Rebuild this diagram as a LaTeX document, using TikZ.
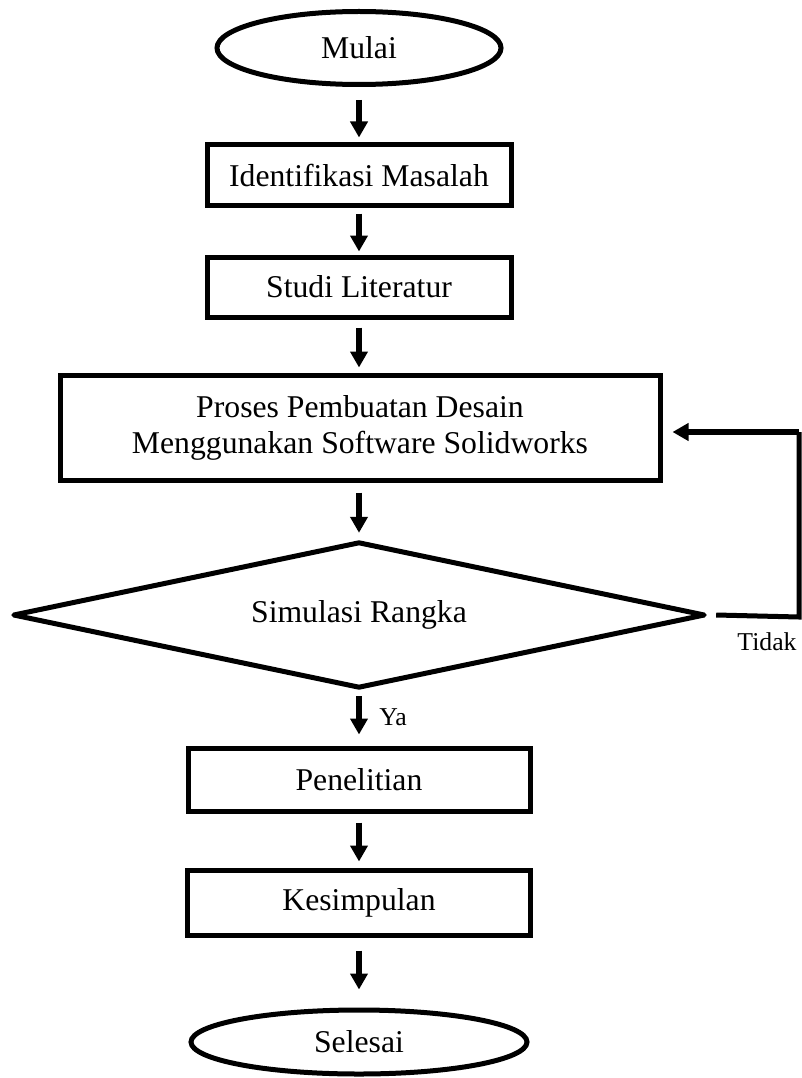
\documentclass[tikz,border=0pt]{standalone}
\usepackage{fontspec}
\setmainfont{Liberation Serif}
\usetikzlibrary{arrows.meta,shapes.geometric}
\begin{document}
\begin{tikzpicture}[x=1pt,y=-1pt,
  lw/.style={line width=5pt},
  procbox/.style={draw,lw,rectangle,inner sep=0pt,align=center,
    font=\fontsize{31.7}{36}\selectfont},
  term/.style={draw,lw,ellipse,inner sep=0pt,
    font=\fontsize{31.7}{36}\selectfont},
  decide/.style={rectangle,inner sep=0pt,
    font=\fontsize{31.7}{36}\selectfont},
  lab/.style={inner sep=0pt,font=\fontsize{25.7}{30}\selectfont},
  arr/.style={line width=5.5pt,-{Triangle[width=17pt,length=16pt]}}]
\useasboundingbox (0,0) rectangle (801,1078);

\node[term,minimum width=284pt,minimum height=73pt] (mulai) at (359,48) {Mulai};
\node[procbox,minimum width=304pt,minimum height=60pt] (ident) at (359,175) {Identifikasi Masalah};
\node[procbox,minimum width=304pt,minimum height=60pt] (studi) at (359,287) {Studi Literatur};
\node[procbox,minimum width=600pt,minimum height=105pt] (proses) at (360,427.5)
  {Proses Pembuatan Desain\\Menggunakan Software Solidworks};
\node[decide,minimum width=690pt,minimum height=144pt] (sim) at (359,615) {Simulasi Rangka};
\draw[lw,line join=round] (sim.west) -- (sim.north) -- (sim.east) -- (sim.south) -- cycle;
\node[procbox,minimum width=342pt,minimum height=63pt] (pen) at (359,779.5) {Penelitian};
\node[procbox,minimum width=343pt,minimum height=65pt] (kes) at (359,902.5) {Kesimpulan};
\node[term,minimum width=336pt,minimum height=64pt] (sel) at (359,1042) {Selesai};

\node[lab] (ya) at (393,717) {Ya};
\node[lab] (tidak) at (767,642) {Tidak};

\draw[arr] ([yshift=-13pt]mulai.south) -- ([yshift=5pt]ident.north);
\draw[arr] ([yshift=-6pt]ident.south) -- ([yshift=3pt]studi.north);
\draw[arr] ([yshift=-8pt]studi.south) -- ([yshift=5pt]proses.north -| studi.south);
\draw[arr] ([yshift=-10pt]proses.south -| sim.north) -- ([yshift=10pt]sim.north);
\draw[arr] ([yshift=-9pt]sim.south) -- ([yshift=11pt]pen.north);
\draw[arr] ([yshift=-9pt]pen.south) -- ([yshift=6pt]kes.north);
\draw[arr] ([yshift=-13pt]kes.south) -- ([yshift=18pt]sel.north);

\coordinate (c1) at (799,617);
\coordinate (c2) at (799,432);
\draw[lw] ([xshift=12pt]sim.east) -- (c1) -- (c2);
\draw[arr] (c2) -- ([xshift=10pt]c2 -| proses.east);
\end{tikzpicture}
\end{document}
